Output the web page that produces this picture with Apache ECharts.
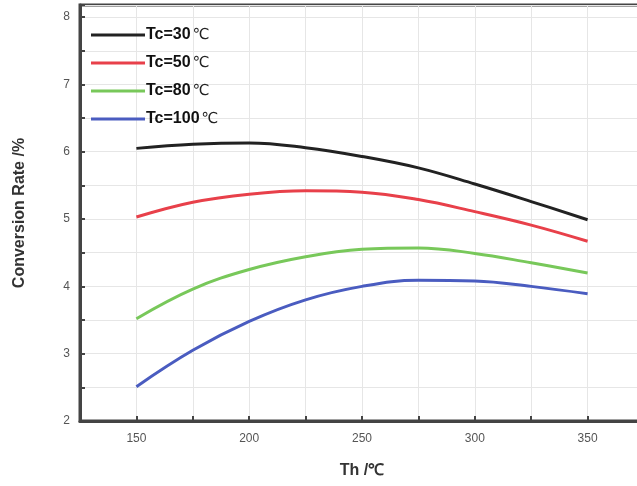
<!DOCTYPE html>
<html>
<head>
<meta charset="utf-8">
<script src="https://cdn.jsdelivr.net/npm/echarts@6/dist/echarts.min.js"></script>
<style>
  html, body { margin: 0; padding: 0; background: #fff; }
  #chart { width: 637px; height: 486px; }
</style>
</head>
<body>
<div id="chart"></div>
<script>
// Th values (℃)
const thValues = [150, 175, 200, 225, 250, 275, 300, 325, 350];

// conversion rate (%) per Tc
const tc30 = [6.05, 6.11, 6.13, 6.06, 5.93, 5.76, 5.52, 5.26, 4.99];
const tc50 = [5.03, 5.25, 5.37, 5.42, 5.40, 5.29, 5.11, 4.91, 4.67];
const tc80 = [3.52, 3.96, 4.25, 4.44, 4.55, 4.57, 4.49, 4.35, 4.2];
const tc100 = [2.51, 3.05, 3.48, 3.8, 4.0, 4.09, 4.08, 4.0, 3.89];

const tcLabels = ["30", "50", "80", "100"];
const seriesNames = ["Tc=30℃", "Tc=50℃", "Tc=80℃", "Tc=100℃"];
const seriesColors = ["#222222", "#e8404a", "#78c85a", "#4a5cc0"];
const xLabels = [150, 200, 250, 300, 350];
const yLabels = [2, 3, 4, 5, 6, 7, 8];

function pairs(ys) {
    return thValues.map((x, i) => [x, ys[i]]);
}

const allData = [tc30, tc50, tc80, tc100];

let myChart = echarts.init(document.querySelector("#chart"));
option = {
    animation: false,
    grid: {
        left: 80,
        top: 5,
        height: 416,
        width: 564,
        outerBoundsMode: "none",
        show: true,
        borderColor: "#444",
        borderWidth: 3,
    },
    legend: {
        left: 86,
        top: 22,
        orient: "vertical",
        itemWidth: 54,
        itemHeight: 3,
        itemGap: 12,
        icon: "rect",
        formatter: function (name) {
            const i = seriesNames.indexOf(name);
            return "{b|Tc=" + tcLabels[i] + "}{c|℃}";
        },
        textStyle: {
            padding: [0, 0, 0, -4],
            rich: {
                b: {
                    fontFamily: "Liberation Sans",
                    fontWeight: "bold",
                    fontSize: 16,
                    color: "#111",
                },
                c: {
                    fontFamily: "DejaVu Sans",
                    fontSize: 15,
                    color: "#222",
                    padding: [0, 0, 0, 2],
                },
            },
        },
        data: seriesNames,
    },
    xAxis: {
        type: "value",
        min: 125,
        max: 375,
        interval: 25,
        name: "Th /℃",
        nameLocation: "middle",
        nameGap: 42,
        nameTextStyle: {
            fontFamily: "Liberation Sans",
            fontWeight: "bold",
            fontSize: 16,
            color: "#333",
        },
        axisLine: { lineStyle: { color: "#444", width: 3 } },
        axisTick: { inside: true, length: 5, lineStyle: { color: "#444", width: 2 } },
        axisLabel: {
            fontFamily: "Liberation Sans",
            fontSize: 12,
            color: "#555",
            margin: 12,
            formatter: function (v) {
                return xLabels.indexOf(v) >= 0 ? String(v) : "";
            },
        },
        splitLine: { show: true, lineStyle: { color: "#e6e6e6", width: 1 } },
    },
    yAxis: {
        type: "value",
        min: 2,
        max: 8.18,
        interval: 0.5,
        name: "Conversion Rate /%",
        nameLocation: "middle",
        nameGap: 52,
        nameTextStyle: {
            fontFamily: "Liberation Sans",
            fontWeight: "bold",
            fontSize: 16,
            color: "#333",
        },
        axisLine: { show: true, lineStyle: { color: "#444", width: 3 } },
        axisTick: { inside: true, length: 5, lineStyle: { color: "#444", width: 2 } },
        axisLabel: {
            fontFamily: "Liberation Sans",
            fontSize: 12,
            color: "#555",
            margin: 10,
            formatter: function (v) {
                return yLabels.indexOf(v) >= 0 ? String(v) : "";
            },
        },
        splitLine: { show: true, lineStyle: { color: "#e6e6e6", width: 1 } },
    },
    series: allData.map((d, i) => ({
        name: seriesNames[i],
        type: "line",
        smooth: 0.4,
        smoothConstraint: false,
        showSymbol: false,
        symbol: "none",
        data: pairs(d),
        color: seriesColors[i],
        lineStyle: { width: 3, color: seriesColors[i] },
    })),
};
myChart.setOption(option);
</script>
</body>
</html>
